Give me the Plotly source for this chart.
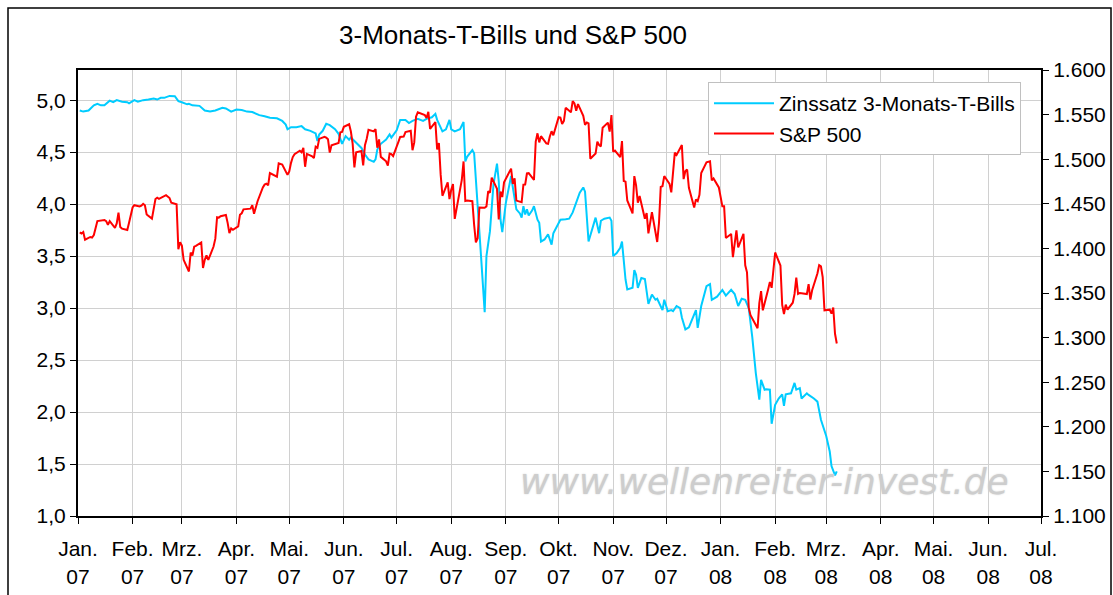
import plotly.graph_objects as go

# ---- Data ----
month_ticks = ["2007-01-01","2007-02-01","2007-03-01","2007-04-01","2007-05-01","2007-06-01",
               "2007-07-01","2007-08-01","2007-09-01","2007-10-01","2007-11-01","2007-12-01",
               "2008-01-01","2008-02-01","2008-03-01","2008-04-01","2008-05-01","2008-06-01","2008-07-01"]
month_labels = ["Jan.<br>07","Feb.<br>07","Mrz.<br>07","Apr.<br>07","Mai.<br>07","Jun.<br>07",
                "Jul.<br>07","Aug.<br>07","Sep.<br>07","Okt.<br>07","Nov.<br>07","Dez.<br>07",
                "Jan.<br>08","Feb.<br>08","Mrz.<br>08","Apr.<br>08","Mai.<br>08","Jun.<br>08","Jul.<br>08"]

tb_dates = ["2007-01-02","2007-01-04","2007-01-07","2007-01-10","2007-01-12","2007-01-14","2007-01-16","2007-01-19",
"2007-01-21","2007-01-23","2007-01-26","2007-01-29","2007-01-30","2007-02-02","2007-02-04","2007-02-07","2007-02-10",
"2007-02-13","2007-02-15","2007-02-17","2007-02-19","2007-02-22","2007-02-25","2007-02-27","2007-03-01","2007-03-04",
"2007-03-05","2007-03-07","2007-03-11","2007-03-14","2007-03-17","2007-03-20","2007-03-24","2007-03-26","2007-03-29",
"2007-04-01","2007-04-04","2007-04-07","2007-04-10","2007-04-14","2007-04-17","2007-04-20","2007-04-24","2007-04-27",
"2007-04-29","2007-04-30","2007-05-02","2007-05-05","2007-05-08","2007-05-10","2007-05-13","2007-05-16","2007-05-17",
"2007-05-18","2007-05-20","2007-05-22","2007-05-24","2007-05-27","2007-05-29","2007-05-31","2007-06-02","2007-06-04",
"2007-06-05","2007-06-08","2007-06-11","2007-06-13","2007-06-15","2007-06-18","2007-06-19","2007-06-20","2007-06-22",
"2007-06-25","2007-06-27","2007-06-28","2007-07-01","2007-07-03","2007-07-06","2007-07-08","2007-07-10","2007-07-13",
"2007-07-16","2007-07-18","2007-07-21","2007-07-23","2007-07-24","2007-07-27","2007-07-29","2007-07-31","2007-08-01",
"2007-08-03","2007-08-06","2007-08-08","2007-08-09","2007-08-10","2007-08-13","2007-08-14","2007-08-16","2007-08-18",
"2007-08-20","2007-08-21","2007-08-23","2007-08-25","2007-08-27","2007-08-28","2007-08-29","2007-08-30","2007-09-01",
"2007-09-03","2007-09-04","2007-09-05","2007-09-07","2007-09-09","2007-09-10","2007-09-11","2007-09-12","2007-09-13",
"2007-09-14","2007-09-16","2007-09-17","2007-09-19","2007-09-20","2007-09-21","2007-09-23","2007-09-25","2007-09-27",
"2007-09-28","2007-09-30","2007-10-02","2007-10-05","2007-10-07","2007-10-09","2007-10-11","2007-10-13","2007-10-15",
"2007-10-16","2007-10-18","2007-10-20","2007-10-22","2007-10-24","2007-10-25","2007-10-27","2007-10-30","2007-10-31",
"2007-11-01","2007-11-03","2007-11-05","2007-11-06","2007-11-08","2007-11-09","2007-11-12","2007-11-13","2007-11-14",
"2007-11-15","2007-11-17","2007-11-19","2007-11-21","2007-11-23","2007-11-25","2007-11-26","2007-11-29","2007-11-30",
"2007-12-02","2007-12-04","2007-12-05","2007-12-07","2007-12-09","2007-12-10","2007-12-12","2007-12-14","2007-12-18",
"2007-12-19","2007-12-21","2007-12-24","2007-12-26","2007-12-27","2007-12-30","2008-01-02","2008-01-04","2008-01-07",
"2008-01-09","2008-01-11","2008-01-13","2008-01-15","2008-01-17","2008-01-19","2008-01-21","2008-01-23","2008-01-24",
"2008-01-26","2008-01-27","2008-01-29","2008-01-30","2008-02-01","2008-02-03","2008-02-05","2008-02-06","2008-02-07",
"2008-02-10","2008-02-12","2008-02-13","2008-02-15","2008-02-16","2008-02-19","2008-02-20","2008-02-23","2008-02-25",
"2008-02-27","2008-03-01","2008-03-03","2008-03-04","2008-03-06","2008-03-07"]
tb_values = [4.90,4.89,4.90,4.95,4.965,4.95,4.95,4.995,
4.98,5.00,4.985,4.98,4.97,5.00,4.985,5.00,5.006,
5.016,5.006,5.022,5.022,5.041,5.038,4.99,4.98,4.96,
4.965,4.95,4.945,4.90,4.89,4.90,4.926,4.92,4.89,
4.91,4.905,4.89,4.885,4.856,4.845,4.83,4.825,4.80,
4.765,4.72,4.74,4.74,4.75,4.72,4.705,4.68,4.606,
4.67,4.705,4.772,4.76,4.72,4.676,4.58,4.654,4.62,
4.64,4.59,4.54,4.477,4.43,4.407,4.43,4.525,4.58,
4.62,4.67,4.64,4.71,4.81,4.81,4.78,4.80,4.82,
4.80,4.82,4.835,4.868,4.81,4.70,4.72,4.81,4.72,
4.70,4.72,4.79,4.41,4.455,4.52,4.49,4.03,3.48,
2.96,3.50,3.74,4.19,4.39,4.22,3.85,3.73,4.01,
4.19,4.27,4.16,3.95,3.91,3.87,3.98,3.90,3.95,
3.89,3.94,3.98,3.85,3.82,3.64,3.66,3.71,3.61,
3.72,3.78,3.85,3.855,3.86,3.92,4.01,4.11,4.16,
4.12,3.64,3.75,3.87,3.72,3.84,3.86,3.87,3.84,
3.50,3.53,3.58,3.64,3.275,3.18,3.195,3.365,3.32,
3.195,3.29,3.28,3.04,3.13,3.08,3.09,2.98,3.08,
2.97,2.98,2.97,3.02,3.00,2.91,2.795,2.815,2.98,
2.81,3.02,3.21,3.23,3.08,3.11,3.175,3.12,3.175,
3.135,3.02,3.09,3.08,3.00,2.72,2.375,2.12,2.31,
2.215,2.22,2.215,1.887,2.07,2.13,2.17,2.06,2.17,
2.18,2.28,2.215,2.23,2.13,2.18,2.165,2.13,2.10,
1.926,1.77,1.62,1.48,1.39,1.43]

sp_dates = ["2007-01-02","2007-01-03","2007-01-04","2007-01-05","2007-01-08","2007-01-09","2007-01-10","2007-01-11",
"2007-01-12","2007-01-16","2007-01-17","2007-01-18","2007-01-19","2007-01-22","2007-01-23","2007-01-24","2007-01-25",
"2007-01-26","2007-01-29","2007-01-30","2007-01-31","2007-02-01","2007-02-02","2007-02-05","2007-02-06","2007-02-07",
"2007-02-08","2007-02-09","2007-02-12","2007-02-13","2007-02-14","2007-02-15","2007-02-16","2007-02-20","2007-02-21",
"2007-02-22","2007-02-23","2007-02-26","2007-02-27","2007-02-28","2007-03-01","2007-03-02","2007-03-05","2007-03-06",
"2007-03-07","2007-03-08","2007-03-09","2007-03-12","2007-03-13","2007-03-14","2007-03-15","2007-03-16","2007-03-19",
"2007-03-20","2007-03-21","2007-03-22","2007-03-23","2007-03-26","2007-03-27","2007-03-28","2007-03-29","2007-03-30",
"2007-04-02","2007-04-03","2007-04-04","2007-04-05","2007-04-09","2007-04-10","2007-04-11","2007-04-12","2007-04-13",
"2007-04-16","2007-04-17","2007-04-18","2007-04-19","2007-04-20","2007-04-23","2007-04-24","2007-04-25","2007-04-26",
"2007-04-27","2007-04-30","2007-05-01","2007-05-02","2007-05-03","2007-05-04","2007-05-07","2007-05-08","2007-05-09",
"2007-05-10","2007-05-11","2007-05-14","2007-05-15","2007-05-16","2007-05-17","2007-05-18","2007-05-21","2007-05-22",
"2007-05-23","2007-05-24","2007-05-25","2007-05-29","2007-05-30","2007-05-31","2007-06-01","2007-06-04","2007-06-05",
"2007-06-06","2007-06-07","2007-06-08","2007-06-11","2007-06-12","2007-06-13","2007-06-14","2007-06-15","2007-06-18",
"2007-06-19","2007-06-20","2007-06-21","2007-06-22","2007-06-25","2007-06-26","2007-06-27","2007-06-28","2007-06-29",
"2007-07-02","2007-07-03","2007-07-05","2007-07-06","2007-07-09","2007-07-10","2007-07-11","2007-07-12","2007-07-13",
"2007-07-16","2007-07-17","2007-07-18","2007-07-19","2007-07-20","2007-07-23","2007-07-24","2007-07-25","2007-07-26",
"2007-07-27","2007-07-30","2007-07-31","2007-08-01","2007-08-02","2007-08-03","2007-08-06","2007-08-07","2007-08-08",
"2007-08-09","2007-08-10","2007-08-13","2007-08-14","2007-08-15","2007-08-16","2007-08-17","2007-08-20","2007-08-21",
"2007-08-22","2007-08-23","2007-08-24","2007-08-27","2007-08-28","2007-08-29","2007-08-30","2007-08-31","2007-09-04",
"2007-09-05","2007-09-06","2007-09-07","2007-09-10","2007-09-11","2007-09-12","2007-09-13","2007-09-14","2007-09-17",
"2007-09-18","2007-09-19","2007-09-20","2007-09-21","2007-09-24","2007-09-25","2007-09-26","2007-09-27","2007-09-28",
"2007-10-01","2007-10-02","2007-10-03","2007-10-04","2007-10-05","2007-10-08","2007-10-09","2007-10-10","2007-10-11",
"2007-10-12","2007-10-15","2007-10-16","2007-10-17","2007-10-18","2007-10-19","2007-10-22","2007-10-23","2007-10-24",
"2007-10-25","2007-10-26","2007-10-29","2007-10-30","2007-10-31","2007-11-01","2007-11-02","2007-11-05","2007-11-06",
"2007-11-07","2007-11-08","2007-11-09","2007-11-12","2007-11-13","2007-11-14","2007-11-15","2007-11-16","2007-11-19",
"2007-11-20","2007-11-21","2007-11-23","2007-11-26","2007-11-27","2007-11-28","2007-11-29","2007-11-30","2007-12-03",
"2007-12-04","2007-12-05","2007-12-06","2007-12-07","2007-12-10","2007-12-11","2007-12-12","2007-12-13","2007-12-14",
"2007-12-17","2007-12-18","2007-12-19","2007-12-20","2007-12-21","2007-12-24","2007-12-26","2007-12-27","2007-12-28",
"2007-12-31","2008-01-02","2008-01-03","2008-01-04","2008-01-07","2008-01-08","2008-01-09","2008-01-10","2008-01-11",
"2008-01-14","2008-01-15","2008-01-16","2008-01-17","2008-01-18","2008-01-22","2008-01-23","2008-01-24","2008-01-25",
"2008-01-28","2008-01-29","2008-01-30","2008-01-31","2008-02-01","2008-02-04","2008-02-05","2008-02-06","2008-02-07",
"2008-02-08","2008-02-11","2008-02-12","2008-02-13","2008-02-14","2008-02-15","2008-02-19","2008-02-20","2008-02-21",
"2008-02-22","2008-02-25","2008-02-26","2008-02-27","2008-02-28","2008-02-29","2008-03-03","2008-03-04","2008-03-05",
"2008-03-06","2008-03-07"]
sp_values = [1418.0,1416.6,1418.3,1409.7,1412.8,1412.1,1414.9,1423.8,
1430.7,1431.9,1430.6,1426.4,1430.5,1423.0,1428.0,1440.1,1423.9,
1422.2,1420.6,1428.8,1438.2,1445.9,1448.4,1447.0,1448.0,1450.0,
1448.3,1438.1,1433.4,1444.3,1455.3,1456.8,1455.5,1459.7,1457.6,
1456.4,1451.2,1449.4,1399.0,1406.8,1403.2,1387.2,1374.1,1395.4,
1392.0,1401.9,1402.8,1406.6,1378.0,1387.2,1392.3,1387.0,1402.1,
1410.9,1435.0,1434.5,1436.1,1437.5,1428.6,1417.2,1422.5,1420.9,
1424.6,1437.8,1439.4,1443.8,1444.6,1448.4,1438.9,1447.8,1452.9,
1468.3,1471.5,1472.5,1470.7,1484.4,1480.9,1480.4,1495.4,1494.3,
1494.1,1482.4,1486.3,1495.9,1502.4,1505.6,1509.5,1507.7,1512.6,
1491.5,1505.9,1503.2,1501.2,1514.1,1512.8,1522.8,1525.1,1524.1,
1522.3,1507.5,1515.7,1518.1,1530.2,1530.6,1536.3,1539.2,1531.0,
1517.4,1490.7,1507.7,1509.1,1493.0,1515.7,1523.0,1532.9,1531.1,
1533.7,1512.8,1522.2,1502.6,1497.7,1492.9,1506.3,1505.7,1503.4,
1519.4,1524.9,1525.4,1530.4,1531.9,1510.1,1518.8,1547.7,1552.5,
1549.5,1549.4,1546.2,1553.1,1534.1,1541.6,1511.0,1518.1,1482.7,
1459.0,1473.9,1455.3,1465.8,1472.2,1433.1,1467.7,1476.7,1497.5,
1453.1,1453.6,1452.9,1426.5,1406.7,1411.3,1445.9,1445.6,1447.1,
1464.1,1462.5,1479.4,1466.8,1432.4,1463.8,1457.6,1474.0,1489.4,
1472.3,1478.6,1453.6,1451.7,1471.5,1471.6,1484.0,1484.3,1476.7,
1519.8,1529.0,1518.8,1525.8,1517.7,1517.2,1525.4,1531.4,1526.8,
1547.0,1546.6,1539.6,1542.8,1557.6,1552.6,1565.2,1562.5,1554.4,
1561.8,1548.7,1538.5,1541.2,1540.1,1500.6,1506.3,1519.6,1515.9,
1514.4,1535.3,1541.0,1531.0,1549.4,1508.4,1509.7,1502.2,1520.3,
1475.6,1474.8,1453.7,1439.2,1481.1,1470.6,1451.2,1458.7,1433.3,
1439.7,1416.8,1440.7,1407.2,1428.2,1469.0,1469.7,1481.1,1472.4,
1462.8,1485.0,1507.3,1504.7,1516.0,1477.7,1486.6,1488.4,1468.0,
1445.9,1455.0,1453.0,1460.1,1484.5,1496.5,1497.7,1476.3,1478.5,
1468.4,1447.2,1447.2,1411.6,1416.2,1390.2,1409.1,1420.3,1401.0,
1416.3,1381.0,1373.2,1333.3,1325.2,1310.5,1338.6,1352.1,1330.6,
1354.0,1362.3,1355.8,1378.6,1395.4,1380.8,1336.6,1326.5,1336.9,
1331.3,1339.1,1348.9,1367.2,1348.9,1350.0,1348.8,1360.0,1342.5,
1353.1,1371.8,1381.3,1380.0,1367.7,1330.6,1331.3,1326.8,1333.7,
1304.3,1293.4]

title_text = "3-Monats-T-Bills und S&P 500"
tb_name = "Zinssatz 3-Monats-T-Bills"
sp_name = "S&P 500"
watermark = "www.wellenreiter-invest.de"

# ---- Figure ----
FONT = "Liberation Sans, Arial, sans-serif"
W, H = 1113, 595
ML, MR, MT, MB = 78, 72, 70, 79
pw = W - ML - MR
ph = H - MT - MB
TICK = 21

fig = go.Figure()
fig.add_trace(go.Scatter(x=tb_dates, y=tb_values, name=tb_name, mode="lines",
                         line=dict(color="#00CCFF", width=2), yaxis="y"))
fig.add_trace(go.Scatter(x=sp_dates, y=sp_values, name=sp_name, mode="lines",
                         line=dict(color="#FF0000", width=2), yaxis="y2"))

fig.update_layout(
    width=W, height=H,
    margin=dict(l=ML, r=MR, t=MT, b=MB, pad=0, autoexpand=False),
    paper_bgcolor="white", plot_bgcolor="white",
    separators=",.",
    font=dict(family=FONT, size=TICK, color="black"),
    title=dict(text=title_text, x=513 / W, xref="container", xanchor="center",
               y=1 - 35 / H, yref="container", yanchor="middle",
               font=dict(family=FONT, size=26, color="black")),
    showlegend=True,
    legend=dict(x=(708 - ML) / pw, y=(H - MB - 82) / ph, xanchor="left", yanchor="top",
                bgcolor="white", bordercolor="#c0c0c0", borderwidth=1,
                font=dict(family=FONT, size=21, color="black"),
                itemwidth=60, tracegroupgap=0),
    xaxis=dict(type="date", range=["2007-01-01", "2008-07-01"], automargin=False,
               tickmode="array", tickvals=month_ticks, ticktext=month_labels,
               showgrid=True, gridcolor="#d0d0d0", gridwidth=1,
               showline=True, linecolor="black", linewidth=2, mirror=True,
               ticks="outside", ticklen=6, tickcolor="black", tickwidth=1,
               ticklabelstandoff=7,
               tickfont=dict(family=FONT, size=TICK), zeroline=False),
    yaxis=dict(range=[1.0, 5.29], tick0=1.0, dtick=0.5, tickformat=".1f", automargin=False,
               showgrid=True, gridcolor="#d0d0d0", gridwidth=1,
               showline=True, linecolor="black", linewidth=2,
               ticks="outside", ticklen=6, tickcolor="black",
               tickfont=dict(family=FONT, size=TICK), zeroline=False),
    yaxis2=dict(range=[1100, 1600], tick0=1100, dtick=50, tickformat=",d", automargin=False,
                overlaying="y", side="right", showgrid=False,
                showline=True, linecolor="black", linewidth=2,
                ticks="outside", ticklen=6, tickcolor="black",
                tickfont=dict(family=FONT, size=TICK), zeroline=False),
)

# outer chart border
fig.add_shape(type="rect", xref="paper", yref="paper",
              x0=(8 - ML) / pw, x1=(1111 - ML) / pw,
              y0=(H - MB - 605) / ph, y1=(H - MB - 8) / ph,
              line=dict(color="black", width=1.5), fillcolor="rgba(0,0,0,0)", layer="below")

# watermark
fig.add_annotation(text=watermark, xref="paper", yref="paper",
                   x=(764 - ML) / pw, y=(H - MB - 481) / ph,
                   xanchor="center", yanchor="middle", showarrow=False,
                   font=dict(family="DejaVu Sans", size=36, color="#cdcdcd",
                             style="italic", shadow="0px 0px 2px #d8d8d8"))

fig.write_html("out.html", config={"displayModeBar": False},
               post_script="document.body.style.margin='0';")
